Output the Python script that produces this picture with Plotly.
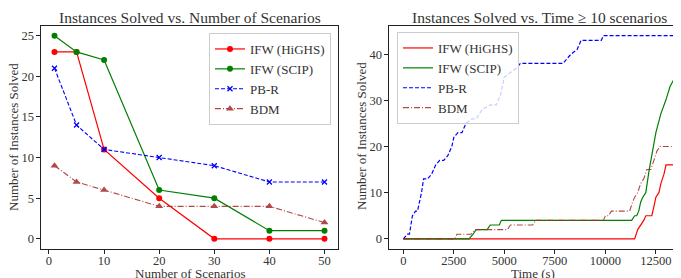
import plotly.graph_objects as go

# ---- Left panel data ----
scenarios = [1, 5, 10, 20, 30, 40, 50]
ifw_highs = [23, 23, 11, 5, 0, 0, 0]
ifw_scip = [25, 23, 22, 6, 5, 1, 1]
pb_r = [21, 14, 11, 10, 9, 7, 7]
bdm = [9, 7, 6, 4, 4, 4, 2]

# ---- Right panel data (cumulative instances solved vs time) ----
highs_t = [0, 11450, 11600, 11750, 11900, 12000, 12300, 12400, 12500, 12650, 12750, 12900, 13000, 13450]
highs_n = [0, 0, 2, 3, 4, 5, 5, 7, 9, 10, 12, 14, 16, 16]

scip_t = [0, 3250, 3450, 3600, 4150, 4300, 4400, 4750, 4850, 11300, 11450, 11550, 11650, 11750, 11850,
          12000, 12170, 12340, 12500, 12740, 12990, 13200, 13450]
scip_n = [0, 0, 1, 2, 2, 3, 3, 3, 4, 4, 5, 5, 6, 8, 9, 10, 15, 19, 23, 27, 30, 33, 35]

pbr_t = [0, 200, 300, 450, 600, 700, 900, 1000, 1200, 1400, 1600, 1800, 2000, 2200, 2400, 2500, 2700,
         2900, 3100, 3400, 3600, 3900, 4300, 4600, 4800, 5000, 5300, 5600, 5800, 7900, 8100, 8300, 8600,
         8800, 9800, 9900, 13450]
pbr_n = [0, 1, 1, 5, 6, 6, 10, 13, 13, 14, 16, 17, 17, 18, 20, 22, 23, 23, 25, 26, 26, 28, 29, 29, 31,
         35, 36, 37, 38, 38, 39, 40, 41, 43, 43, 44, 44]

bdm_t = [0, 2550, 2650, 3350, 3550, 5150, 5300, 6400, 6550, 9900, 10000, 10150, 10300, 11200, 11350,
         11450, 11600, 11750, 11900, 12050, 12250, 12400, 12550, 12700, 13450]
bdm_n = [0, 0, 1, 1, 2, 2, 3, 3, 4, 4, 5, 5, 6, 6, 8, 9, 10, 12, 13, 15, 15, 17, 19, 20, 20]

names = ["IFW (HiGHS)", "IFW (SCIP)", "PB-R", "BDM"]
RED, GREEN, BLUE, BROWN = "#ff0000", "#008000", "#0000ff", "#a52a2a"

FONT = "Liberation Serif"
TXT = "#333333"
W, H = 681, 278
OFF = 8  # page body margin offset

def px_x(p):
    return (p - OFF) / W

def px_y(p):
    return 1 - (p - OFF) / H

fig = go.Figure()

# Left panel
fig.add_trace(go.Scatter(x=scenarios, y=ifw_highs, name=names[0], mode="lines+markers",
                         line=dict(color=RED, width=1.2), marker=dict(symbol="circle", size=6, color=RED),
                         xaxis="x", yaxis="y", legend="legend"))
fig.add_trace(go.Scatter(x=scenarios, y=ifw_scip, name=names[1], mode="lines+markers",
                         line=dict(color=GREEN, width=1.2), marker=dict(symbol="circle", size=6, color=GREEN),
                         xaxis="x", yaxis="y", legend="legend"))
fig.add_trace(go.Scatter(x=scenarios, y=pb_r, name=names[2], mode="lines+markers",
                         line=dict(color=BLUE, width=1.1, dash="4px,2px"),
                         marker=dict(symbol="x-thin", size=5, color=BLUE, line=dict(color=BLUE, width=1.3)),
                         xaxis="x", yaxis="y", legend="legend"))
fig.add_trace(go.Scatter(x=scenarios, y=bdm, name=names[3], mode="lines+markers", opacity=0.85,
                         line=dict(color=BROWN, width=1.1, dash="6px,2px,1px,2px"),
                         marker=dict(symbol="triangle-up", size=7, color=BROWN),
                         xaxis="x", yaxis="y", legend="legend"))

# Right panel
fig.add_trace(go.Scatter(x=highs_t, y=highs_n, name=names[0], mode="lines",
                         line=dict(color=RED, width=1.2), xaxis="x2", yaxis="y2", legend="legend2"))
fig.add_trace(go.Scatter(x=scip_t, y=scip_n, name=names[1], mode="lines",
                         line=dict(color=GREEN, width=1.2), xaxis="x2", yaxis="y2", legend="legend2"))
fig.add_trace(go.Scatter(x=pbr_t, y=pbr_n, name=names[2], mode="lines",
                         line=dict(color=BLUE, width=1.2, dash="4px,2px"), xaxis="x2", yaxis="y2",
                         legend="legend2"))
fig.add_trace(go.Scatter(x=bdm_t, y=bdm_n, name=names[3], mode="lines", opacity=0.85,
                         line=dict(color=BROWN, width=1.1, dash="6px,2px,1px,2px"), xaxis="x2", yaxis="y2",
                         legend="legend2"))

ydom = [px_y(249), px_y(25.5)]
axis_common = dict(showgrid=False, zeroline=False, showline=True, linecolor="#222", linewidth=1.2,
                   ticks="outside", ticklen=3.5, tickwidth=1, tickcolor="#222",
                   tickfont=dict(family=FONT, size=12.5, color=TXT))

fig.update_layout(
    width=W, height=H, margin=dict(l=0, r=0, t=0, b=0),
    paper_bgcolor="white", plot_bgcolor="white",
    xaxis=dict(domain=[px_x(41), px_x(338)], range=[-1.45, 52.45], tickvals=[0, 10, 20, 30, 40, 50],
               mirror=True, anchor="y", ticklabelstandoff=-4, **axis_common),
    yaxis=dict(domain=ydom, range=[-1.25, 26.25], tickvals=[0, 5, 10, 15, 20, 25],
               mirror=True, anchor="x", **axis_common),
    xaxis2=dict(domain=[px_x(389), 1.0], range=[-710, 14139], tickvals=[0, 2500, 5000, 7500, 10000, 12500],
                tickformat="d", mirror=True, anchor="y2", ticklabelstandoff=-4, **axis_common),
    yaxis2=dict(domain=ydom, range=[-2.2, 46.2], tickvals=[0, 10, 20, 30, 40],
                mirror=False, anchor="x2", **axis_common),
    legend=dict(x=px_x(209), y=px_y(33), xanchor="left", yanchor="top",
                bgcolor="rgba(255,255,255,0.8)", bordercolor="#cccccc", borderwidth=1,
                font=dict(family=FONT, size=13, color=TXT), tracegroupgap=0, itemwidth=30),
    legend2=dict(x=px_x(397), y=px_y(32), xanchor="left", yanchor="top",
                 bgcolor="rgba(255,255,255,0.8)", bordercolor="#cccccc", borderwidth=1,
                 font=dict(family=FONT, size=13, color=TXT), tracegroupgap=0, itemwidth=30),
    showlegend=True,
)

ann_font = dict(family=FONT, size=15.5, color=TXT)
lab_font = dict(family=FONT, size=13, color=TXT)
fig.add_annotation(x=px_x(190), y=px_y(17), xref="paper", yref="paper", text="Instances Solved vs. Number of Scenarios",
                   showarrow=False, font=ann_font, xanchor="center", yanchor="middle")
fig.add_annotation(x=px_x(539), y=px_y(17), xref="paper", yref="paper", text="Instances Solved vs. Time ≥ 10 scenarios",
                   showarrow=False, font=ann_font, xanchor="center", yanchor="middle")
fig.add_annotation(x=px_x(190), y=px_y(273.5), xref="paper", yref="paper", text="Number of Scenarios",
                   showarrow=False, font=lab_font, xanchor="center", yanchor="middle")
fig.add_annotation(x=px_x(533), y=px_y(273.5), xref="paper", yref="paper", text="Time (s)",
                   showarrow=False, font=lab_font, xanchor="center", yanchor="middle")
fig.add_annotation(x=px_x(13), y=px_y(137), xref="paper", yref="paper", text="Number of Instances Solved",
                   showarrow=False, font=lab_font, xanchor="center", yanchor="middle", textangle=-90)
fig.add_annotation(x=px_x(361), y=px_y(136), xref="paper", yref="paper", text="Number of Instances Solved",
                   showarrow=False, font=lab_font, xanchor="center", yanchor="middle", textangle=-90)

fig.write_html("out.html")
